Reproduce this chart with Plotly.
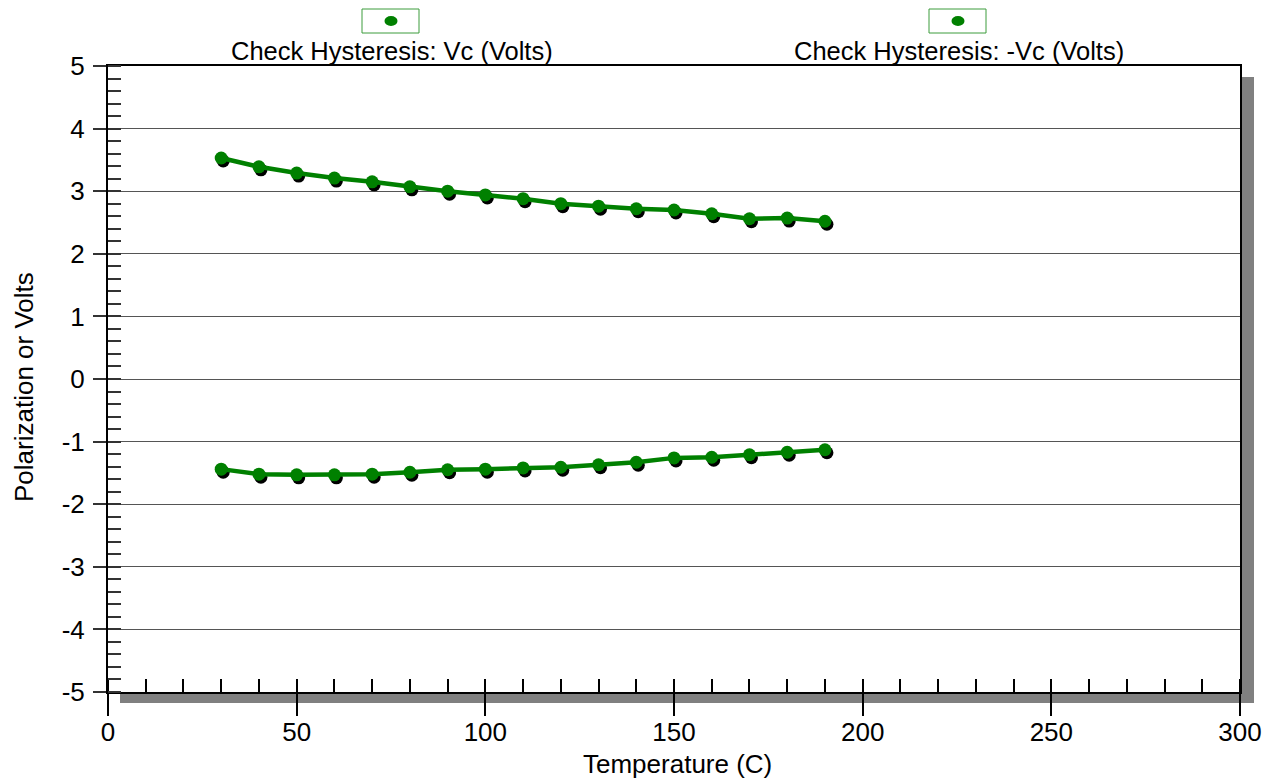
import plotly.graph_objects as go

# ---- data ----
temperature = [30, 40, 50, 60, 70, 80, 90, 100, 110, 120, 130, 140, 150, 160, 170, 180, 190]
vc_pos = [3.53, 3.39, 3.29, 3.21, 3.15, 3.07, 3.00, 2.94, 2.88, 2.80, 2.76, 2.72, 2.70, 2.64, 2.56, 2.57, 2.52]
vc_neg = [-1.44, -1.52, -1.53, -1.53, -1.52, -1.49, -1.45, -1.44, -1.42, -1.41, -1.37, -1.33, -1.26, -1.25, -1.21, -1.17, -1.13]
series_names = ["Check Hysteresis: Vc (Volts)", "Check Hysteresis: -Vc (Volts)"]
x_tick_vals = [0, 50, 100, 150, 200, 250, 300]
x_tick_text = ["0", "50", "100", "150", "200", "250", "300"]
y_tick_vals = [-5, -4, -3, -2, -1, 0, 1, 2, 3, 4, 5]
y_tick_text = ["-5", "-4", "-3", "-2", "-1", "0", "1", "2", "3", "4", "5"]
x_title = "Temperature (C)"
y_title = "Polarization or Volts"

# ---- layout geometry ----
# the page body has an 8px margin, so the figure sits at (8, 8) in the window
OFF = 8
W, H = 1262, 775
L, R, T, B = 100, 30, 58, 91
PW, PH = W - L - R, H - T - B
XR = [0, 300]
YR = [-5, 5]
GREEN = "#008000"
FONT = "Liberation Sans, Arial, sans-serif"

def px(xp):  # window pixel -> paper fraction
    return (xp - OFF - L) / PW

def py(yp):
    return (H - B - (yp - OFF)) / PH

# shadow offset in pixels -> shifted axis ranges
sdx, sdy = 2, 3
ux = (XR[1] - XR[0]) / PW
uy = (YR[1] - YR[0]) / PH
XR_sh = [XR[0] - sdx * ux, XR[1] - sdx * ux]
YR_sh = [YR[0] + sdy * uy, YR[1] + sdy * uy]

fig = go.Figure()

# marker shadows on the (hidden, shifted) base axes
for vals in (vc_pos, vc_neg):
    fig.add_trace(go.Scatter(x=temperature, y=vals, mode="markers",
                             marker=dict(color="black", size=13),
                             xaxis="x", yaxis="y", showlegend=False, hoverinfo="skip"))
# visible series on overlay axes
for vals, name in zip((vc_pos, vc_neg), series_names):
    fig.add_trace(go.Scatter(x=temperature, y=vals, mode="lines+markers", name=name,
                             line=dict(color=GREEN, width=4.5),
                             marker=dict(color=GREEN, size=13),
                             xaxis="x2", yaxis="y2", showlegend=False))

hidden = dict(showgrid=False, zeroline=False, showline=False, showticklabels=False,
              ticks="", automargin=False)

fig.update_layout(
    width=W, height=H,
    margin=dict(l=L, r=R, t=T, b=B, autoexpand=False),
    plot_bgcolor="white", paper_bgcolor="white",
    font=dict(family=FONT, color="black", size=26),
    showlegend=False,
    xaxis=dict(range=XR_sh, **hidden),
    yaxis=dict(range=YR_sh, **hidden),
    xaxis2=dict(range=XR, overlaying="x", side="bottom", automargin=False,
                tickmode="array", tickvals=x_tick_vals, ticktext=x_tick_text,
                ticks="outside", ticklen=22, tickcolor="black",
                tickwidth=1.5, showline=True, linecolor="black", linewidth=1.5, mirror=True,
                showgrid=False, zeroline=False, tickfont=dict(size=26),
                ticklabelstandoff=-6,
                minor=dict(ticks="inside", dtick=10, tick0=0, ticklen=13,
                           tickcolor="black", tickwidth=1.5, showgrid=False)),
    yaxis2=dict(range=YR, overlaying="y", side="left", automargin=False,
                tickmode="array", tickvals=y_tick_vals, ticktext=y_tick_text,
                ticks="outside", ticklen=13, tickcolor="#333",
                tickwidth=1.5, showline=True, linecolor="black", linewidth=2, mirror=True,
                showgrid=True, gridcolor="#555", gridwidth=1, zeroline=False,
                tickfont=dict(size=26), ticklabelstandoff=3,
                minor=dict(ticks="inside", dtick=0.2, tick0=0, ticklen=13,
                           tickcolor="#333", tickwidth=1.5, showgrid=False)),
)

# axis titles
fig.add_annotation(text=x_title, xref="paper", yref="paper", x=px(677), y=py(764),
                   xanchor="center", yanchor="middle", showarrow=False,
                   font=dict(size=26, family=FONT, color="black"))
fig.add_annotation(text=y_title, xref="paper", yref="paper", x=px(24), y=py(387),
                   xanchor="center", yanchor="middle", showarrow=False, textangle=-90,
                   font=dict(size=26, family=FONT, color="black"))

shapes = []
# drop shadow of the plot frame
shapes.append(dict(type="rect", xref="paper", yref="paper", layer="below",
                   x0=px(1242), x1=px(1254), y0=py(703), y1=py(77),
                   fillcolor="#808080", line=dict(width=0)))
shapes.append(dict(type="rect", xref="paper", yref="paper", layer="below",
                   x0=px(120), x1=px(1254), y0=py(703), y1=py(692),
                   fillcolor="#808080", line=dict(width=0)))

# legend: boxes with dot, text below
legend_centers = [391, 958]
for cx, name in zip(legend_centers, series_names):
    shapes.append(dict(type="rect", xref="paper", yref="paper",
                       x0=px(cx - 29), x1=px(cx + 28), y0=py(33), y1=py(9),
                       fillcolor="white", line=dict(color="#3c9c3c", width=1)))
    shapes.append(dict(type="circle", xref="paper", yref="paper",
                       x0=px(cx - 6.5), x1=px(cx + 6.5), y0=py(26), y1=py(16),
                       fillcolor=GREEN, line=dict(color=GREEN, width=0)))
    fig.add_annotation(text=name, xref="paper", yref="paper", x=px(cx + 1), y=py(51),
                       xanchor="center", yanchor="middle", showarrow=False,
                       font=dict(size=25.5, family=FONT, color="black"))

fig.update_layout(shapes=shapes)

fig.write_html("out.html")
